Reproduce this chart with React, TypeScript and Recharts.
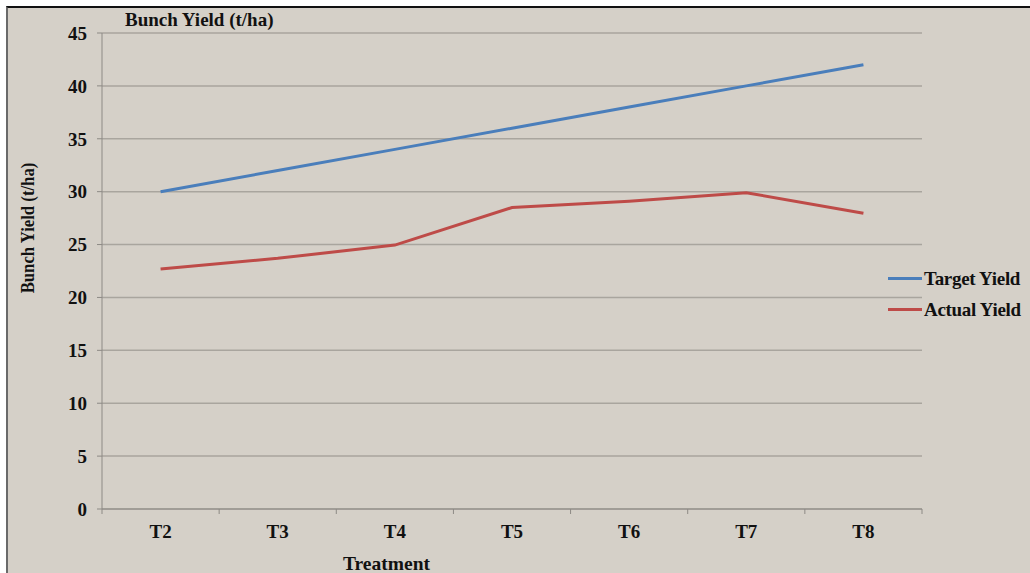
import { LineChart, Line, XAxis, YAxis, CartesianGrid } from "recharts";

const treatments = ["T2", "T3", "T4", "T5", "T6", "T7", "T8"];
const targetYield = [30, 32, 34, 36, 38, 40, 42];
const actualYield = [22.7, 23.7, 24.95, 28.5, 29.1, 29.9, 27.95];
const yTicks = [0, 5, 10, 15, 20, 25, 30, 35, 40, 45];

const data = treatments.map((t, i) => ({
  name: t,
  target: targetYield[i],
  actual: actualYield[i],
}));

const W = 1030;
const H = 573;
const MARGIN = { top: 33, right: 108, bottom: 34, left: 42 };
const Y_AXIS_W = 60;
const X_AXIS_H = 30;
const HALF_BAND = (W - MARGIN.left - MARGIN.right - Y_AXIS_W) / treatments.length / 2;

const FONT = "'Liberation Serif', 'Times New Roman', serif";
const BG = "#d5d0c8";
const GRID = "#a9a59e";
const AXIS = "#8d8a85";
const BLUE = "#4a7ebb";
const RED = "#be4b48";

const series = [
  { key: "target", name: "Target Yield", color: BLUE },
  { key: "actual", name: "Actual Yield", color: RED },
];

// category label plus the divider ticks that sit between categories
const XTick = (props: any) => {
  const { x, y, payload, index } = props;
  return (
    <g>
      <line x1={x - HALF_BAND} x2={x - HALF_BAND} y1={y} y2={y + 5} stroke={AXIS} />
      {index === treatments.length - 1 && (
        <line x1={x + HALF_BAND} x2={x + HALF_BAND} y1={y} y2={y + 5} stroke={AXIS} />
      )}
      <text
        x={x}
        y={y + 29}
        textAnchor="middle"
        fontFamily={FONT}
        fontWeight="bold"
        fontSize={19}
        fill="#111"
      >
        {payload.value}
      </text>
    </g>
  );
};

const textStyle = {
  position: "absolute" as const,
  fontFamily: FONT,
  fontWeight: "bold" as const,
  color: "#111",
  whiteSpace: "nowrap" as const,
};

export default function App() {
  return (
    <div
      style={{
        position: "absolute",
        left: 0,
        top: 0,
        width: W,
        height: H,
        background: "#fff",
        overflow: "hidden",
      }}
    >
      <div
        style={{
          position: "absolute",
          left: 6,
          top: 6,
          width: W - 6,
          height: H,
          background: BG,
          borderTop: "2px solid #111",
          borderLeft: "2px solid #6a6a6a",
        }}
      />
      <LineChart
        width={W}
        height={H}
        data={data}
        margin={MARGIN}
        style={{ position: "absolute", left: 0, top: 0 }}
      >
        <CartesianGrid horizontal vertical={false} stroke={GRID} strokeWidth={1.5} />
        <XAxis
          dataKey="name"
          height={X_AXIS_H}
          padding={{ left: HALF_BAND, right: HALF_BAND }}
          axisLine={{ stroke: AXIS }}
          tickLine={false}
          tickSize={0}
          tickMargin={0}
          interval={0}
          tick={<XTick />}
        />
        <YAxis
          width={Y_AXIS_W}
          domain={[0, 45]}
          ticks={yTicks}
          interval={0}
          axisLine={{ stroke: AXIS }}
          tickLine={{ stroke: AXIS }}
          tickSize={5}
          tickMargin={10}
          tick={{ fontFamily: FONT, fontWeight: "bold", fontSize: 19, fill: "#111" }}
        />
        {series.map((s) => (
          <Line
            key={s.key}
            type="linear"
            dataKey={s.key}
            name={s.name}
            stroke={s.color}
            strokeWidth={3}
            dot={false}
            isAnimationActive={false}
          />
        ))}
      </LineChart>

      {/* legend on the right */}
      <div style={{ ...textStyle, left: 888, top: 263, fontSize: 19, letterSpacing: -0.3 }}>
        {series.map((s) => (
          <div key={s.key} style={{ display: "flex", alignItems: "center", height: 31 }}>
            <div style={{ width: 34, height: 3, background: s.color, marginRight: 2 }} />
            <span>{s.name}</span>
          </div>
        ))}
      </div>

      <div style={{ ...textStyle, left: 125, top: 10, fontSize: 19, lineHeight: "19px" }}>
        Bunch Yield (t/ha)
      </div>
      <div
        style={{
          ...textStyle,
          left: 27,
          top: 228,
          transform: "translate(-50%, -50%) rotate(-90deg) scaleX(0.88)",
          fontSize: 19,
          lineHeight: "19px",
        }}
      >
        Bunch Yield (t/ha)
      </div>
      <div style={{ ...textStyle, left: 343, top: 554, fontSize: 19.5, lineHeight: "19.5px" }}>
        Treatment
      </div>
    </div>
  );
}
